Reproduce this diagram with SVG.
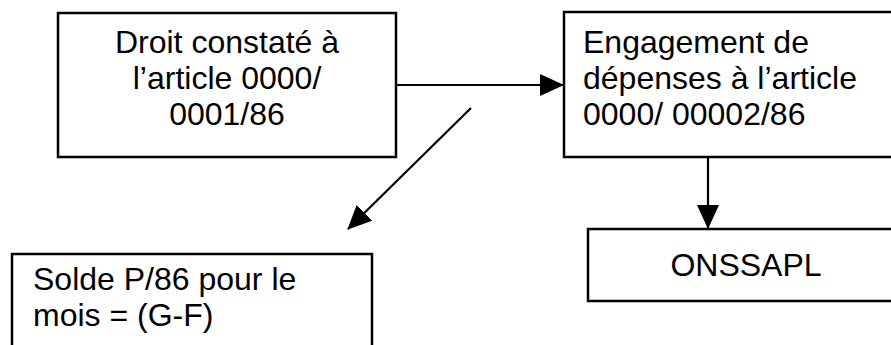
<svg xmlns="http://www.w3.org/2000/svg" width="891" height="345" viewBox="0 0 891 345">
<defs>
<style>
.box{fill:#fff;stroke:#000;stroke-width:2.5}
.t{font-family:"Liberation Sans",Arial,sans-serif;font-size:32px;fill:#000}
.c{stroke:#000;stroke-width:2.2;fill:none;marker-end:url(#ah)}
</style>
<marker id="ah" markerUnits="userSpaceOnUse" viewBox="0 0 24 22" refX="23" refY="11" markerWidth="24" markerHeight="22" orient="auto">
<path d="M0,0 L24,11 L0,22 z" fill="#000"/>
</marker>
</defs>
<rect width="891" height="345" fill="#fff"/>
<g id="droit">
<rect class="box" x="58" y="13" width="338" height="144"/>
<text class="t" text-anchor="middle" x="227" y="53">Droit constaté à</text>
<text class="t" text-anchor="middle" x="227" y="89">l’article 0000/</text>
<text class="t" text-anchor="middle" x="227" y="125">0001/86</text>
</g>
<g id="engagement">
<rect class="box" x="564" y="12" width="340" height="145"/>
<text class="t" x="583" y="53">Engagement de</text>
<text class="t" x="583" y="89">dépenses à l’article</text>
<text class="t" x="583" y="125">0000/ 00002/86</text>
</g>
<g id="solde">
<rect class="box" x="12" y="254" width="360" height="110"/>
<text class="t" x="33" y="290">Solde P/86 pour le</text>
<text class="t" x="33" y="326">mois = (G-F)</text>
</g>
<g id="onssapl">
<rect class="box" x="588" y="229" width="320" height="72"/>
<text class="t" text-anchor="middle" x="746" y="276">ONSSAPL</text>
</g>
<g id="connectors">
<line class="c" x1="396" y1="85" x2="563" y2="85"/>
<line class="c" x1="471" y1="108" x2="348" y2="229"/>
<line class="c" x1="708" y1="157" x2="708" y2="228"/>
</g>
</svg>
